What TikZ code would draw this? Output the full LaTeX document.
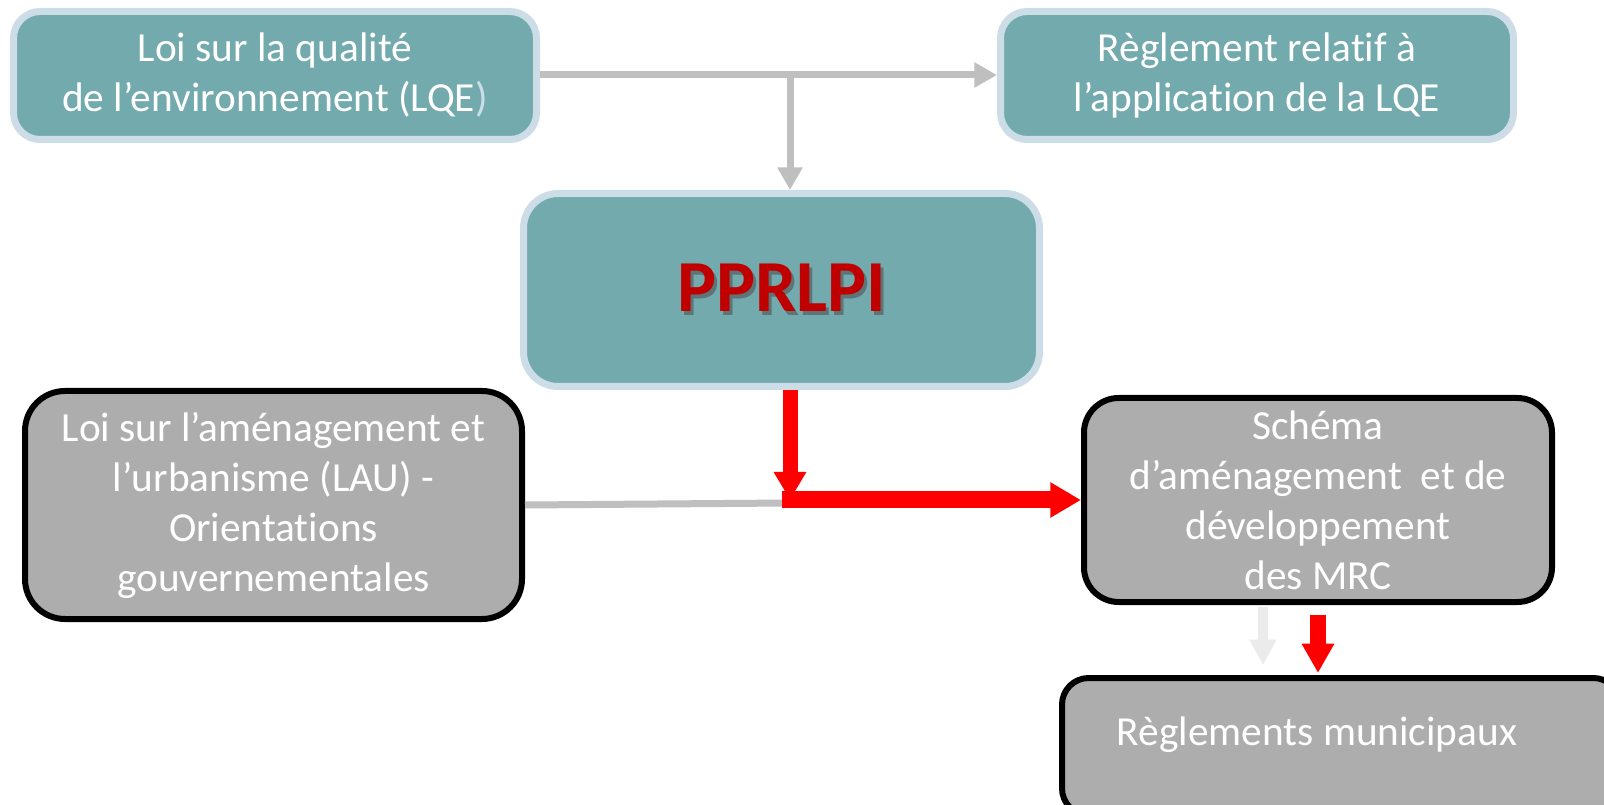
\documentclass[tikz,border=0pt]{standalone}
\usepackage{fontspec}
\setmainfont{Carlito}[Ligatures=NoCommon]
\usetikzlibrary{arrows.meta}
\definecolor{tealfill}{HTML}{73AAAE}
\definecolor{bordblue}{HTML}{CCDDE8}
\definecolor{boxgray}{HTML}{ADADAD}
\definecolor{linegray}{HTML}{BFBFBF}
\definecolor{palegray}{HTML}{EBEBEB}
\definecolor{darkred}{HTML}{C00000}
\definecolor{shadowcol}{HTML}{5E7476}
\begin{document}
\begin{tikzpicture}[x=0.75pt,y=-0.75pt,
  txt/.style={text=white, align=center, inner sep=0pt, font=\fontsize{31}{37.5}\selectfont},
  tealbox/.style={txt, draw=bordblue, fill=tealfill, line width=5.25pt, rounded corners=20pt},
  graybox/.style={txt, draw=black, fill=boxgray, line width=4.5pt, rounded corners=26pt},
  grayarrow/.style={draw=linegray, line width=5.25pt, -{Triangle[length=17pt,width=18pt]}},
  redarrow/.style={draw=red, line width=11.25pt, -{Triangle[length=21pt,width=23pt]}},
]
\useasboundingbox (0,0) rectangle (1604,805);
\clip (0,0) rectangle (1604,805);
\fill[white] (0,0) rectangle (1604,805);

\node[tealbox, minimum width=523*0.75pt, minimum height=128*0.75pt] (lqe) at (275,75.5)
  {Loi sur la qualité\\de l’environnement (LQE\textcolor{bordblue}{)}};
\node[tealbox, minimum width=513*0.75pt, minimum height=128*0.75pt] (rlqe) at (1257,75.5)
  {Règlement relatif à\\l’application de la LQE};
\node[tealbox, rounded corners=26pt, minimum width=516*0.75pt, minimum height=193*0.75pt,
  font=\bfseries\fontsize{55}{60}\selectfont] (pp) at (781.5,290)
  {\makebox[0pt][l]{\hspace{2.5pt}\raisebox{-3pt}{\textcolor{shadowcol}{PPRLPI}}}\textcolor{darkred}{PPRLPI}};

\node[graybox, rounded corners=30pt, minimum width=497*0.75pt, minimum height=228*0.75pt] (lau) at (273.5,505)
  {Loi sur l’aménagement et\\l’urbanisme (LAU) -\\Orientations\\gouvernementales};
\node[graybox, minimum width=468*0.75pt, minimum height=204*0.75pt] (sad) at (1318,500)
  {Schéma\\d’aménagement\hspace{0.45em}et de\\développement\\des MRC};
\node[graybox, rounded corners=20pt, minimum width=558*0.75pt, minimum height=137*0.75pt] (rm) at (1341,746.5) {};
\node[txt] (rmtext) at (1317,735) {Règlements municipaux};

\coordinate (j1) at (790,75);
\coordinate (j2) at (790,503);

\draw[linegray, line width=5.25pt] (lqe.east |- j1) -- (j1);
\draw[grayarrow] (j1) -- (rlqe.west |- j1);
\draw[grayarrow] (j1) -- (j1 |- pp.north);

\draw[linegray, line width=5.25pt] (lau.east |- 0,505) -- (j2);
\draw[redarrow] (j1 |- pp.south) -- (790,500);
\draw[red, line width=12.75pt, -{Triangle[length=23pt,width=25pt]}] (782,500) -- (sad.west |- 0,500);

\draw[draw=palegray, line width=7pt, -{Triangle[length=19pt,width=19pt]}] (1263,607) -- (1263,665);
\draw[draw=red, line width=12pt, -{Triangle[length=22pt,width=23pt]}] (1318,615) -- (1318,673);
\end{tikzpicture}
\end{document}
